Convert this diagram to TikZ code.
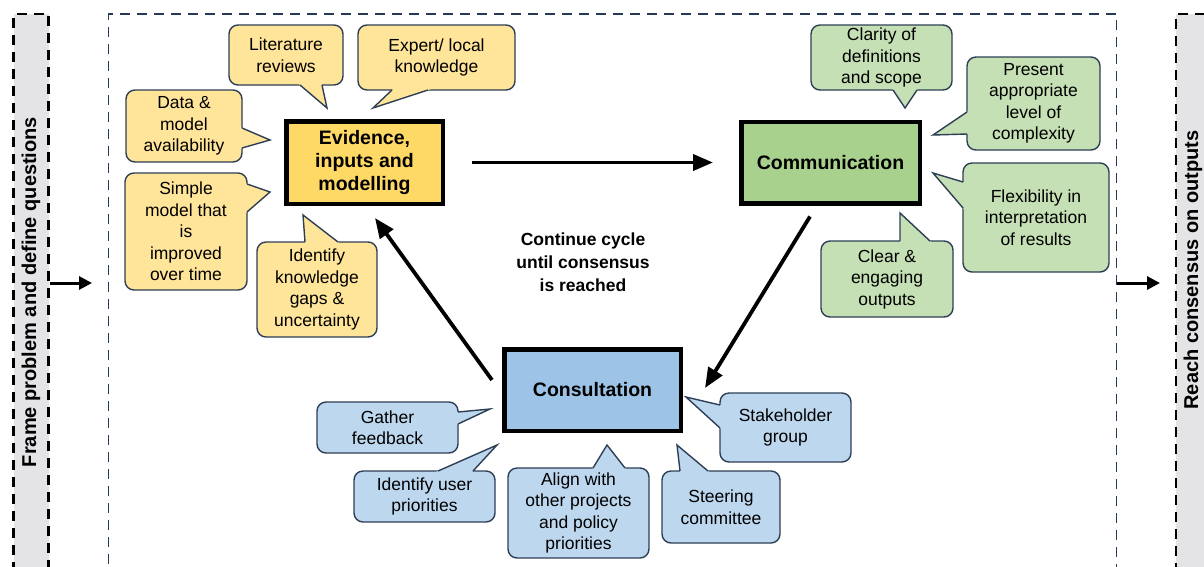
\documentclass[tikz,border=0pt]{standalone}
\usepackage{fontspec}
\setmainfont{Liberation Sans}
\usetikzlibrary{arrows.meta, positioning, calc}

\definecolor{evifill}{HTML}{FFD966}
\definecolor{comfill}{HTML}{A9D18E}
\definecolor{confill}{HTML}{9DC3E6}
\definecolor{yelnote}{HTML}{FFE599}
\definecolor{grnnote}{HTML}{C5E0B4}
\definecolor{blunote}{HTML}{BDD7EE}
\definecolor{rimcol}{HTML}{2E3F55}
\definecolor{framecol}{HTML}{263A54}
\definecolor{colfill}{HTML}{E4E4E6}

\tikzset{
  rim/.style={draw=rimcol, line width=1.4pt},
  note/.style={rim, rounded corners=9pt, align=center, inner sep=0pt,
    font=\fontsize{17.5}{21.5}\selectfont},
}

% speech bubble tail: base point, tip, base point
\newcommand{\tail}[4]{%
  \fill[#1] ($#2!-3pt!#3$) -- #3 -- ($#4!-3pt!#3$) -- cycle;
  \draw[rim] #2 -- #3 -- #4;}

\begin{document}
\begin{tikzpicture}[x=1pt, y=-1pt, on grid,
  box/.style={draw, line width=4.5pt, align=center, inner sep=0pt,
    font=\bfseries\fontsize{19.5}{23}\selectfont},
  cyc/.style={-{Triangle[length=20pt,width=16pt]}, line width=3.8pt},
  side/.style={-{Triangle[length=13pt,width=13pt]}, line width=3pt},
  colbox/.style={fill=colfill, draw=black, line width=2.6pt, dash pattern=on 10pt off 7pt},
  coltext/.style={rotate=90, font=\bfseries\fontsize{20}{24}\selectfont}]

  \path[use as bounding box, fill=white] (0,0) rectangle (1204,566);

  % outer columns and the dashed cycle frame
  \node[colbox, minimum width=35pt, minimum height=640pt] (qcol) at (31,334) {};
  \node[colbox, minimum width=60pt, minimum height=640pt] (ocol) at (1206,334) {};
  \node[draw=framecol, line width=1.8pt, dash pattern=on 10pt off 7pt,
    minimum width=1008pt, minimum height=640pt] (frame) at (612.5,334) {};
  \node[coltext] (qtxt) at (31,292) {Frame problem and define questions};
  \node[coltext] (otxt) at (1193,270) {Reach consensus on outputs};

  \coordinate (in) at (92,283);
  \coordinate (out) at (1160,283);
  \draw[side] (qcol.east |- in) -- (in);
  \draw[side] (frame.east |- out) -- (out);

  % the three stages
  \node[box, fill=evifill, minimum width=156.5pt, minimum height=82.5pt] (evi) at (364.5,162.5)
    {Evidence,\\inputs and\\modelling};
  \node[box, fill=comfill, minimum width=178.5pt, minimum height=81.5pt] (com) [right=466pt of evi]
    {Communication};
  \node[box, fill=confill, minimum width=176.5pt, minimum height=81.5pt] (con) [below right=227.5pt and 228pt of evi]
    {Consultation};

  \draw[cyc, shorten <=27pt, shorten >=26pt] (evi.east) -- (com.west);
  \draw[cyc] ([shift={(-20.5,11)}]com.south) -- ([shift={(22,-2)}]con.east);
  \draw[cyc] ([shift={(-10,-10)}]con.west) -- ([shift={(10.5,12)}]evi.south);

  \node[align=center, font=\bfseries\fontsize{17.5}{23}\selectfont] (loop) at (583,262)
    {Continue cycle\\until consensus\\is reached};

  % evidence notes
  \node[note, fill=yelnote, minimum width=114pt, minimum height=60pt] (lit) at (286,55) {Literature\\reviews};
  \tail{yelnote}{(300,85)}{(327,108)}{(322,85)}
  \node[note, fill=yelnote, minimum width=157pt, minimum height=65pt] (exp) at (436.5,57.5) {Expert/ local\\knowledge};
  \tail{yelnote}{(392,90)}{(373,108)}{(428,90)}
  \node[note, fill=yelnote, minimum width=116pt, minimum height=72pt] (dat) at (184,126) {Data \&\\model\\availability};
  \tail{yelnote}{(242,128)}{(270,140)}{(242,148)}
  \node[note, fill=yelnote, minimum width=122pt, minimum height=117pt] (sim) at (186,231.5) {Simple\\model that\\is\\improved\\over time};
  \tail{yelnote}{(247,184)}{(270,192)}{(247,212)}
  \node[note, fill=yelnote, minimum width=120pt, minimum height=95pt] (gap) at (317,289.5) {Identify\\knowledge\\gaps \&\\uncertainty};
  \tail{yelnote}{(305,242)}{(303,215)}{(338,242)}

  % communication notes
  \node[note, fill=grnnote, minimum width=141pt, minimum height=65pt] (cla) at (881.5,57.5) {Clarity of\\definitions\\and scope};
  \tail{grnnote}{(893,90)}{(905,108)}{(917,90)}
  \node[note, fill=grnnote, minimum width=133pt, minimum height=93pt] (pre) at (1033.5,103.5) {Present\\appropriate\\level of\\complexity};
  \tail{grnnote}{(967,112)}{(933,135)}{(967,134)}
  \node[note, fill=grnnote, minimum width=146pt, minimum height=109pt] (fle) at (1036,217.5) {Flexibility in\\interpretation\\of results};
  \tail{grnnote}{(963,182)}{(933,173)}{(963,208)}
  \node[note, fill=grnnote, minimum width=132pt, minimum height=76pt] (clr) at (887,279) {Clear \&\\engaging\\outputs};
  \tail{grnnote}{(900,241)}{(900,213)}{(930,241)}

  % consultation notes
  \node[note, fill=blunote, minimum width=141pt, minimum height=51pt] (gat) at (387.5,427.5) {Gather\\feedback};
  \tail{blunote}{(458,412)}{(490,409)}{(458,424)}
  \node[note, fill=blunote, minimum width=141pt, minimum height=51pt] (usr) at (424.5,496.5) {Identify user\\priorities};
  \tail{blunote}{(438,471)}{(497,445)}{(473,471)}
  \node[note, fill=blunote, minimum width=141pt, minimum height=90pt] (ali) at (578.5,513) {Align with\\other projects\\and policy\\priorities};
  \tail{blunote}{(593,468)}{(607,445)}{(625,468)}
  \node[note, fill=blunote, minimum width=118pt, minimum height=72pt] (ste) at (721,507) {Steering\\committee};
  \tail{blunote}{(680,471)}{(677,445)}{(708,471)}
  \node[note, fill=blunote, minimum width=131pt, minimum height=69pt] (stk) at (785.5,427.5) {Stakeholder\\group};
  \tail{blunote}{(720,405)}{(686,397)}{(720,428)}
\end{tikzpicture}
\end{document}
